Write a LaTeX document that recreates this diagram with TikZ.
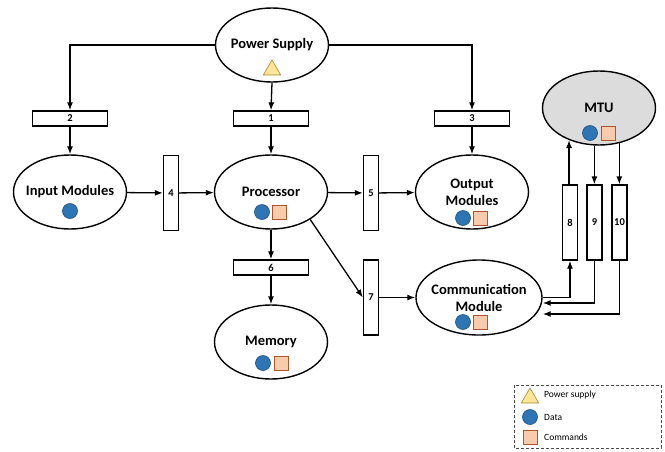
\documentclass[tikz,border=0pt]{standalone}
\usepackage{fontspec}
\setmainfont{Carlito}
\usetikzlibrary{arrows.meta,shapes.geometric}

\definecolor{dataBlue}{HTML}{2E75B6}
\definecolor{dataLine}{HTML}{1F4E79}
\definecolor{cmdFill}{HTML}{F8CBAD}
\definecolor{cmdLine}{HTML}{B0542B}
\definecolor{powFill}{HTML}{FFE699}
\definecolor{powLine}{HTML}{A8862A}
\definecolor{mtuFill}{HTML}{DCDCDC}

\tikzset{
  module/.style={ellipse, draw, line width=1.4pt, minimum width=113pt, minimum height=74pt,
    inner xsep=-20pt, inner ysep=0pt, align=center, font=\bfseries\fontsize{14.5}{17}\selectfont},
  hbar/.style={rectangle, draw, line width=1.3pt, minimum width=75pt, minimum height=15pt,
    inner sep=0pt, font=\bfseries\fontsize{10.5}{10.5}\selectfont},
  vbar/.style={hbar, minimum width=15pt, minimum height=75pt},
  link/.style={-{Latex[length=8pt,width=6pt]}, line width=1.3pt},
  data/.style={circle, draw=dataLine, fill=dataBlue, line width=0.6pt, minimum size=15pt, inner sep=0pt},
  cmd/.style={rectangle, draw=cmdLine, fill=cmdFill, line width=0.8pt, minimum size=14pt, inner sep=0pt},
  power/.style={regular polygon, regular polygon sides=3, draw=powLine, fill=powFill,
    line width=0.6pt, minimum size=20pt, inner sep=0pt},
  legtext/.style={anchor=west, inner sep=0pt, font=\fontsize{9.5}{9.5}\selectfont}
}

\begin{document}
\begin{tikzpicture}[x=1pt, y=-1pt]
            \useasboundingbox (0, 0) rectangle (665, 451);

            \node[module] (ps) at (272, 45) {Power Supply};
            \node[module] (inp) at (70, 192) {Input Modules};
            \node[module] (proc) at (271, 192) {Processor};
            \node[module] (out) at (472, 192) {Output\\Modules};
            \node[module] (mem) at (271, 342) {Memory};
            \node[module, minimum width=126pt, minimum height=75pt] (comm) at (479, 297.5) {Communication\\Module};
            \node[module, fill=mtuFill] (mtu) at (599, 108) {MTU};

            % icons
            \node[power] (psP) at (272, 70) {};
            \node[data] (inpD) at (70, 211) {};
            \node[data] (procD) at (262, 212) {};
            \node[cmd] (procC) at (279, 212) {};
            \node[data] (outD) at (463, 218) {};
            \node[cmd] (outC) at (480, 218) {};
            \node[data] (memD) at (263, 363) {};
            \node[cmd] (memC) at (281, 363) {};
            \node[data] (commD) at (463, 322) {};
            \node[cmd] (commC) at (480, 322) {};
            \node[data] (mtuD) at (590, 133) {};
            \node[cmd] (mtuC) at (608, 133) {};

            \node[hbar] (b1) at (271, 118.5) {1};
            \node[hbar] (b2) at (70, 118.5) {2};
            \node[hbar] (b3) at (472, 118.5) {3};
            \node[vbar] (b4) at (171, 193) {4};
            \node[vbar] (b5) at (371, 193) {5};
            \node[hbar] (b6) at (271, 267.5) {6};
            \node[vbar] (b7) at (371, 297.5) {7};
            \node[vbar] (b8) at (570, 222.5) {8};
            \node[vbar] (b9) at (594.5, 222.5) {9};
            \node[vbar] (b10) at (619.5, 222.5) {10};

            \draw[link] (ps.west) -| (b2.north);
            \draw[link] (ps.east) -| (b3.north);
            \draw[link] (ps.south) -- (b1.north);
            \draw[link] (b1) -- (proc);
            \draw[link] (b2) -- (inp);
            \draw[link] (b3) -- (out);
            \draw[link] (inp) -- (b4);
            \draw[link] (b4) -- (proc);
            \draw[link] (proc) -- (b5);
            \draw[link] (b5) -- (out);
            \draw[link] (proc) -- (b6);
            \draw[link] (b6) -- (mem);
            \draw[link] (proc.-35) -- (b7.west);
            \draw[link] (b7) -- (comm);
            \draw[link] (comm.east) -| (b8.south);
            \draw[link] (mtu.227.6 |- b8.north) -- (mtu.227.6);
            \draw[link] (mtu.263) -- (mtu.263 |- b9.north);
            \draw[link] (mtu.300.7) -- (mtu.300.7 |- b10.north);
            \draw[link] (b9.south) |- ([yshift=-5.5pt]comm.east);
            \draw[link] (b10.south) |- ([yshift=-16.5pt]comm.east);

            % legend
            \draw[densely dashed, line width=0.7pt, gray!60!black] (514, 385) rectangle (661, 448);
            \node[power] (legP) at (530, 398) {};
            \node[legtext] (legPT) at (544, 395) {Power supply};
            \node[data] (legD) at (530, 417) {};
            \node[legtext] (legDT) at (544, 417) {Data};
            \node[cmd] (legC) at (530, 437) {};
            \node[legtext] (legCT) at (544, 437) {Commands};
        \end{tikzpicture}
\end{document}
